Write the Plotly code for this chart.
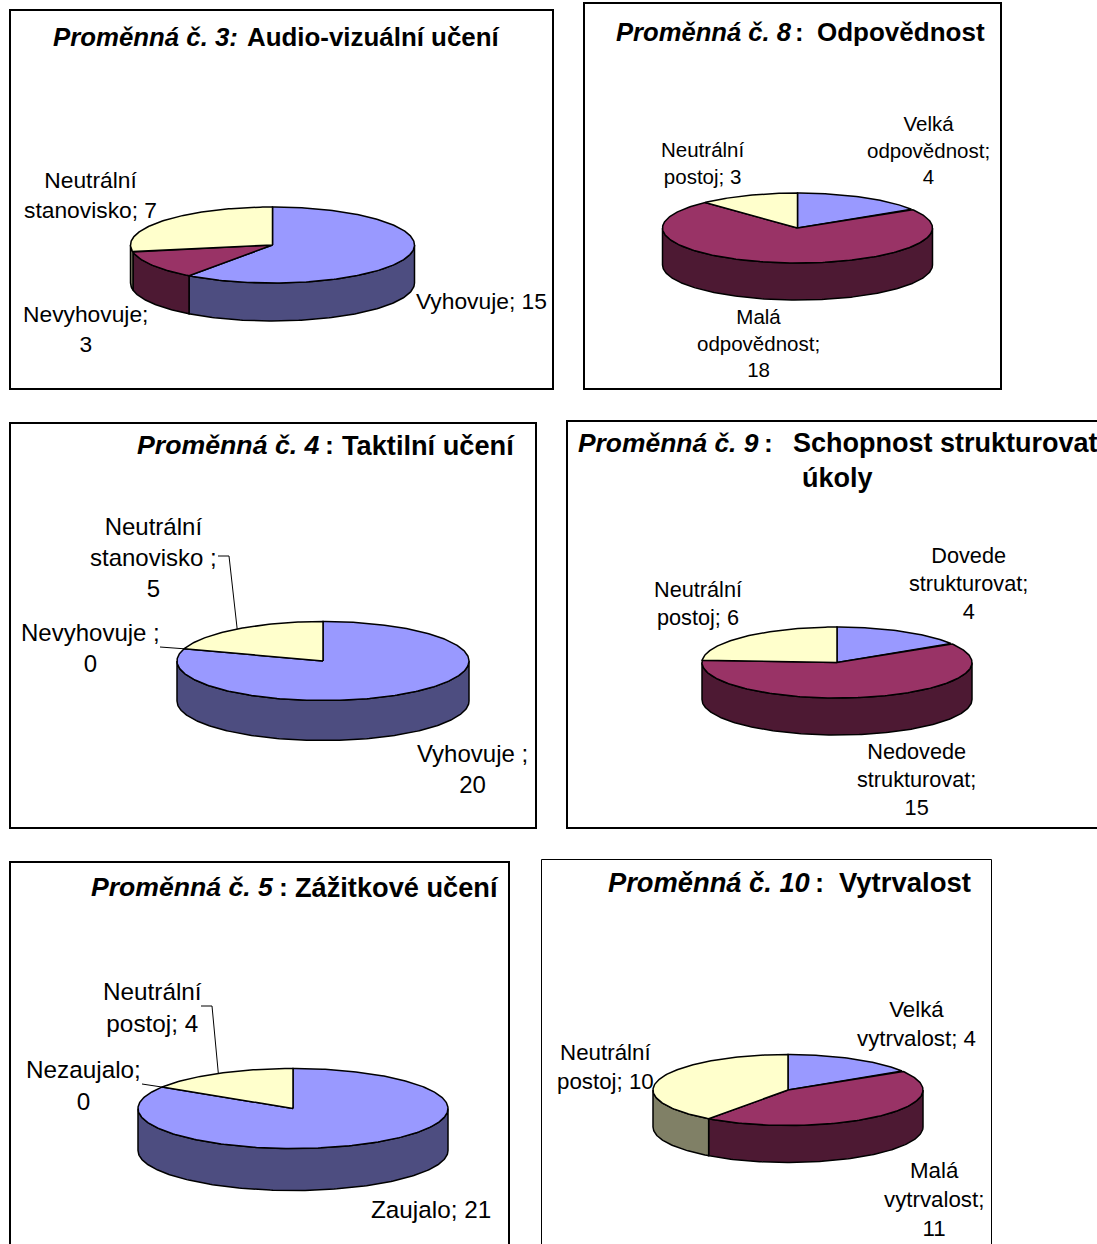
import numpy as np
import plotly.graph_objects as go

# Survey answers per variable, in slice order (clockwise from 12 o'clock)
var3_values = [15, 3, 7]
var3_labels = ["Vyhovuje; {}", "Nevyhovuje;<br>{}", "Neutrální<br>stanovisko; {}"]
var8_values = [4, 18, 3]
var8_labels = ["Velká<br>odpovědnost;<br>{}", "Malá<br>odpovědnost;<br>{}", "Neutrální<br>postoj; {}"]
var4_values = [20, 0, 5]
var4_labels = ["Vyhovuje ;<br>{}", "Nevyhovuje ;<br>{}", "Neutrální<br>stanovisko ;<br>{}"]
var9_values = [4, 15, 6]
var9_labels = ["Dovede<br>strukturovat;<br>{}", "Nedovede<br>strukturovat;<br>{}", "Neutrální<br>postoj; {}"]
var5_values = [21, 0, 4]
var5_labels = ["Zaujalo; {}", "Nezaujalo;<br>{}", "Neutrální<br>postoj; {}"]
var10_values = [4, 11, 10]
var10_labels = ["Velká<br>vytrvalost; {}", "Malá<br>vytrvalost;<br>{}", "Neutrální<br>postoj; {}"]

TOP_COLORS = ["#9999FF", "#993366", "#FFFFCC"]
WALL_COLORS = ["#4D4D80", "#4D1933", "#808066"]
FONT = "Liberation Sans, Arial, sans-serif"

# Per-chart layout: frame, pie ellipse, title fragments (x, y, text, size) and label anchors
CHARTS = [
    dict(values=var3_values, labels=var3_labels,
         frame=(10, 10, 553, 389), border=2,
         pie=(272.5, 245, 142, 38, 38), size=22.8,
         anchors=[(481, 301), (85, 329), (90, 195)], elbows={},
         title=[(51, 37, "<b><i>Proměnná č. 3:</i></b>", 25.8),
                (245, 37, "<b>Audio-vizuální učení</b>", 25.9)]),
    dict(values=var8_values, labels=var8_labels,
         frame=(584, 3, 1001, 389), border=2,
         pie=(797.5, 228, 135, 35, 37), size=20.5,
         anchors=[(928, 149.5), (758, 342.5), (702, 162.5)], elbows={},
         title=[(614, 32, "<b><i>Proměnná č. 8</i></b>", 25.6),
                (793, 32, "<b>:</b>", 25.6),
                (815, 32, "<b>Odpovědnost</b>", 26)]),
    dict(values=var4_values, labels=var4_labels,
         frame=(10, 423, 536, 828), border=2,
         pie=(323, 661, 146, 39.5, 40), size=24,
         anchors=[(472, 769), (90, 648), (153, 557)],
         elbows={1: [(160, 647)], 2: [(218, 556), (229, 556)]},
         title=[(135, 445, "<b><i>Proměnná č. 4</i></b>", 26.7),
                (323, 445, "<b>:</b>", 26.7),
                (340, 445, "<b>Taktilní učení</b>", 27.2)]),
    dict(values=var9_values, labels=var9_labels,
         frame=(567, 421, 1110, 828), border=2,
         pie=(837, 662.5, 135, 35.5, 37), size=21.7,
         anchors=[(968, 583), (916, 779), (698, 603)], elbows={},
         title=[(576, 443, "<b><i>Proměnná č. 9</i></b>", 26.4),
                (762, 443, "<b>:</b>", 26.4),
                (791, 443, "<b>Schopnost strukturovat</b>", 27),
                (800, 478, "<b>úkoly</b>", 27)]),
    dict(values=var5_values, labels=var5_labels,
         frame=(10, 862, 509, 1260), border=2,
         pie=(293, 1108.5, 155, 40, 42), size=24.3,
         anchors=[(431, 1209), (83, 1085), (152, 1007)],
         elbows={1: [(142, 1084)], 2: [(201, 1006), (212, 1006)]},
         title=[(89, 887, "<b><i>Proměnná č. 5</i></b>", 26.6),
                (277, 887, "<b>:</b>", 26.6),
                (293, 887, "<b>Zážitkové učení</b>", 27.2)]),
    dict(values=var10_values, labels=var10_labels,
         frame=(541.5, 859.5, 991.5, 1260), border=1,
         pie=(788, 1090, 135, 35.5, 37), size=22.3,
         anchors=[(916, 1024), (934, 1199.5), (605, 1067)], elbows={},
         title=[(606, 882, "<b><i>Proměnná č. 10</i></b>", 27.3),
                (813, 882, "<b>:</b>", 27.3),
                (837, 882, "<b>Vytrvalost</b>", 27.5)]),
]


def rim(cx, cy, a, b, start, stop, drop=0.0):
    """Points on the pie rim between two clockwise angles (degrees from 12 o'clock)."""
    n = max(2, int(abs(stop - start)) + 2)
    t = np.radians(np.linspace(start, stop, n))
    return cx + a * np.sin(t), cy - b * np.cos(t) + drop


def polygon(fig, x, y, color):
    fig.add_trace(go.Scatter(
        x=np.round(x, 2), y=np.round(y, 2), mode="lines", fill="toself", fillcolor=color,
        line=dict(color="black", width=1.5), hoverinfo="skip", showlegend=False))


fig = go.Figure()
shapes, annotations = [], []

for chart in CHARTS:
    x0, y0, x1, y1 = chart["frame"]
    shapes.append(dict(type="rect", layer="below", xref="x", yref="y", x0=x0, y0=y0, x1=x1, y1=y1,
                       fillcolor="white", line=dict(color="black", width=chart["border"])))

    cx, cy, a, b, depth = chart["pie"]
    values = chart["values"]
    edges = np.concatenate([[0], np.cumsum(values)]) * 360.0 / sum(values)

    # Side wall: only the front half of the rim (90°..270°) is visible
    for i in range(len(values)):
        lo, hi = max(edges[i], 90), min(edges[i + 1], 270)
        if hi > lo:
            xt, yt = rim(cx, cy, a, b, lo, hi)
            xb, yb = rim(cx, cy, a, b, hi, lo, depth)
            polygon(fig, np.r_[xt, xb, xt[0]], np.r_[yt, yb, yt[0]], WALL_COLORS[i])

    # Top face
    for i in range(len(values)):
        if values[i] > 0:
            xt, yt = rim(cx, cy, a, b, edges[i], edges[i + 1])
            polygon(fig, np.r_[cx, xt, cx], np.r_[cy, yt, cy], TOP_COLORS[i])

    # Data labels, with leader lines running to the slice's rim midpoint
    for i, (template, (ax, ay)) in enumerate(zip(chart["labels"], chart["anchors"])):
        annotations.append(dict(
            x=ax, y=ay, xref="x", yref="y", text=template.format(values[i]), showarrow=False,
            xanchor="center", yanchor="middle", align="center",
            font=dict(family=FONT, size=chart["size"], color="black")))
        if i in chart["elbows"]:
            mid = np.radians((edges[i] + edges[i + 1]) / 2)
            pts = chart["elbows"][i] + [(cx + a * np.sin(mid), cy - b * np.cos(mid))]
            fig.add_trace(go.Scatter(
                x=[p[0] for p in pts], y=[p[1] for p in pts], mode="lines",
                line=dict(color="black", width=1), hoverinfo="skip", showlegend=False))

    for tx, ty, text, tsize in chart["title"]:
        annotations.append(dict(
            x=tx, y=ty, xref="x", yref="y", text=text, showarrow=False,
            xanchor="left", yanchor="middle",
            font=dict(family=FONT, size=tsize, color="black")))

fig.update_layout(
    width=1097, height=1244, margin=dict(l=0, r=0, t=0, b=0),
    paper_bgcolor="white", plot_bgcolor="white", showlegend=False,
    shapes=shapes, annotations=annotations,
    xaxis=dict(range=[0, 1097], visible=False, fixedrange=True),
    yaxis=dict(range=[1244, 0], visible=False, fixedrange=True),
)

fig.write_html("out.html", config=dict(displayModeBar=False))
